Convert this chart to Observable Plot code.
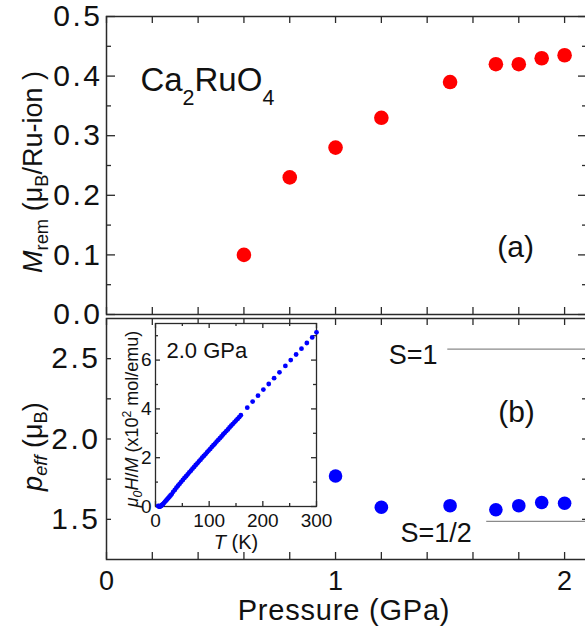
<!DOCTYPE html>
<html><head><meta charset="utf-8">
<script src="https://cdn.jsdelivr.net/npm/d3@7"></script>
<script src="https://cdn.jsdelivr.net/npm/@observablehq/plot@0.6"></script>
<style>
body{margin:0;background:#fff;}
#chart{position:relative;width:585px;height:631px;overflow:hidden;background:#fff;}
#chart svg{position:absolute;}
</style></head><body><div id="chart"></div>
<script>
// ---- data ----
const pressureA = [0.6, 0.8, 1.0, 1.2, 1.5, 1.7, 1.8, 1.9, 2.0];
const mRem      = [0.10, 0.23, 0.28, 0.33, 0.39, 0.42, 0.42, 0.43, 0.435];

const pressureB = [1.0, 1.2, 1.5, 1.7, 1.8, 1.9, 2.0];
const pEff      = [1.77, 1.575, 1.585, 1.56, 1.585, 1.605, 1.60];

// reference levels in panel (b)
const levelNames  = ["S=1", "S=1/2"];
const levelValues = [2.56, 1.487];
const levelStart  = [1.49, 1.66];

// inset: mu0 H / M (x10^2 mol/emu) vs T (K) at 2.0 GPa
const insetT = [5, 6, 7, 8, 9, 10, 11, 12, 13, 14, 16, 18, 20, 22, 24, 26, 28, 30, 33, 36, 39, 42, 45, 48, 51, 54, 57, 60, 63, 66, 69, 72, 75, 78, 81, 84, 87, 90, 93, 96, 99, 102, 105, 108, 111, 114, 117, 120, 123, 126, 129, 132, 135, 138, 141, 144, 147, 150, 153, 156, 159, 171, 181, 191, 201, 211, 221, 231, 242, 252, 262, 272, 282, 292, 300];
const insetInvChi = [0.02, 0.01, 0.0, 0.0, 0.01, 0.02, 0.04, 0.06, 0.08, 0.1, 0.15, 0.2, 0.25, 0.3, 0.35, 0.4, 0.45, 0.5, 0.6, 0.68, 0.77, 0.85, 0.93, 1.01, 1.09, 1.17, 1.24, 1.32, 1.4, 1.47, 1.55, 1.62, 1.7, 1.77, 1.85, 1.92, 2.0, 2.07, 2.14, 2.22, 2.29, 2.36, 2.44, 2.51, 2.58, 2.66, 2.73, 2.8, 2.87, 2.95, 3.02, 3.09, 3.16, 3.24, 3.31, 3.38, 3.45, 3.52, 3.59, 3.66, 3.74, 4.05, 4.3, 4.54, 4.79, 5.02, 5.26, 5.5, 5.76, 6.0, 6.23, 6.47, 6.7, 6.93, 7.14];

// ticks
const pressureTicks  = [0, 0.2, 0.4, 0.6, 0.8, 1.0, 1.2, 1.4, 1.6, 1.8, 2.0];
const pressureLabels = [0, 1, 2];
const mRemMajor = [0, 0.1, 0.2, 0.3, 0.4, 0.5];
const mRemMinor = [0.05, 0.15, 0.25, 0.35, 0.45];
const pEffMajor = [1.5, 2.0, 2.5];
const pEffMinor = [1.75, 2.25];
const tempMajor = [0, 100, 200, 300];
const tempMinor = [50, 150, 250];
const invChiMajor = [0, 2, 4, 6];
const invChiMinor = [1, 3, 5, 7];

// ---- style ----
const FONT = "Liberation Sans, Arial, Helvetica, sans-serif";
const INK = "#2a2a2a";
const TXT = "#111";
const baseStyle = {fontFamily: FONT, background: "transparent", overflow: "visible", color: TXT};
const tickStyle = {stroke: INK, strokeWidth: 1.3};

function xTicks(vals, len, fh) {
  return [Plot.ruleX(vals, {x: d => d, insetTop: fh - len, ...tickStyle}),
          Plot.ruleX(vals, {x: d => d, insetBottom: fh - len, ...tickStyle})];
}
function yTicks(vals, len, fw) {
  return [Plot.ruleY(vals, {y: d => d, insetRight: fw - len, ...tickStyle}),
          Plot.ruleY(vals, {y: d => d, insetLeft: fw - len, ...tickStyle})];
}

const W = 585, ML = 106, MR = -2;
const FW = W - ML - MR;

// ---- panel (a) ----
const topH = 318, topMT = 16, topMB = 4, topFH = topH - topMT - topMB;
const panelA = Plot.plot({
  width: W, height: topH, marginTop: topMT, marginBottom: topMB, marginLeft: ML, marginRight: MR,
  x: {domain: [0, 2.1], axis: null}, y: {domain: [0, 0.5], axis: null},
  style: baseStyle,
  marks: [
    Plot.frame({stroke: INK, strokeWidth: 1.5}),
    xTicks(pressureTicks, 7, topFH),
    yTicks(mRemMajor, 9, FW),
    yTicks(mRemMinor, 5, FW),
    Plot.axisY(mRemMajor, {anchor: "left", tickSize: 0, tickPadding: 4, tickFormat: d3.format(".1f"), fontSize: 30, fill: TXT, label: null}),
    Plot.dot(pressureA.map((p, i) => ({p, m: mRem[i]})), {x: "p", y: "m", r: 7.3, fill: "#ff0000", stroke: "none"}),
    Plot.text(["(a)"], {x: 1.786, y: 0.112, fontSize: 30, fill: TXT}),
    Plot.text(["Ca_{2}RuO_{4}"], {x: 0.148, y: 0.393, textAnchor: "start", fontSize: 33, fill: TXT}),
    Plot.text(["*M*_{rem} (μ_{B}/Ru-ion )"], {frameAnchor: "left", textAnchor: "middle", lineAnchor: "middle", rotate: -90, dx: -73, dy: 6.5, fontSize: 27, fill: TXT})
  ]
});

// ---- panel (b) ----
const botTop = 300, botH = 331, botMT = 18, botMB = 72, botFH = botH - botMT - botMB;
const panelB = Plot.plot({
  width: W, height: botH, marginTop: botMT, marginBottom: botMB, marginLeft: ML, marginRight: MR,
  x: {domain: [0, 2.1], axis: null}, y: {domain: [1.25, 2.75], axis: null},
  style: baseStyle,
  marks: [
    Plot.frame({stroke: INK, strokeWidth: 1.5}),
    xTicks(pressureTicks, 7, botFH),
    yTicks(pEffMajor, 5, FW),
    yTicks(pEffMinor, 5, FW),
    Plot.axisY(pEffMajor, {anchor: "left", tickSize: 0, tickPadding: 6, tickFormat: d3.format(".1f"), fontSize: 30, fill: TXT, label: null}),
    Plot.axisX(pressureLabels, {anchor: "bottom", tickSize: 0, tickPadding: 11, tickFormat: d3.format("d"), fontSize: 27, fill: TXT, label: null}),
    Plot.ruleY(levelValues.map((v, i) => ({v, s: levelStart[i]})), {y: "v", x1: "s", x2: 2.1, stroke: "#8a8a8a", strokeWidth: 1.2}),
    Plot.dot(pressureB.map((p, i) => ({p, v: pEff[i]})), {x: "p", y: "v", r: 6.8, fill: "#0000ff", stroke: "none"}),
    Plot.text([levelNames[0]], {x: 1.445, y: 2.52, textAnchor: "end", fontSize: 27, fill: TXT}),
    Plot.text([levelNames[1]], {x: 1.439, y: 1.413, fontSize: 27, fill: TXT}),
    Plot.text(["(b)"], {x: 1.79, y: 2.165, fontSize: 30, fill: TXT}),
    Plot.text(["*p*_{*eff*} (μ_{B})"], {frameAnchor: "left", textAnchor: "middle", lineAnchor: "middle", rotate: -90, dx: -73.5, dy: 7.5, fontSize: 27, fill: TXT}),
    Plot.text(["Pressure (GPa)"], {frameAnchor: "bottom", textAnchor: "middle", lineAnchor: "middle", dx: -3, dy: 51, fontSize: 29, fill: TXT})
  ]
});

// ---- inset ----
const inLeft = 110, inTop = 318, inW = 215, inH = 240;
const inML = 45, inMT = 5, inMR = 9, inMB = 52;
const inFW = inW - inML - inMR, inFH = inH - inMT - inMB;
const inset = Plot.plot({
  width: inW, height: inH, marginLeft: inML, marginTop: inMT, marginRight: inMR, marginBottom: inMB,
  x: {domain: [0, 300], axis: null}, y: {domain: [0, 7.5], axis: null},
  style: baseStyle,
  marks: [
    Plot.frame({stroke: INK, strokeWidth: 1.3, fill: "white"}),
    xTicks(tempMajor, 5, inFH),
    xTicks(tempMinor, 3, inFH),
    yTicks(invChiMajor, 5, inFW),
    yTicks(invChiMinor, 3, inFW),
    Plot.axisX(tempMajor, {anchor: "bottom", tickSize: 0, tickPadding: 7, tickFormat: d3.format("d"), fontSize: 19, fill: TXT, label: null}),
    Plot.axisY(invChiMajor, {anchor: "left", tickSize: 0, tickPadding: 4, tickFormat: d3.format("d"), fontSize: 19, fill: TXT, label: null}),
    Plot.dot(insetT.map((t, i) => ({t, v: insetInvChi[i]})), {x: "t", y: "v", r: 2.4, fill: "#0000ff", stroke: "none"}),
    Plot.text(["2.0 GPa"], {frameAnchor: "top-left", textAnchor: "start", lineAnchor: "middle", dx: 11, dy: 27, fontSize: 22, fill: TXT}),
    Plot.text(["*μ*_{*0*}*H*/*M* (x10^{2} mol/emu)"], {frameAnchor: "left", textAnchor: "middle", lineAnchor: "middle", rotate: -90, dx: -23, dy: 4, fontSize: 18, fill: TXT}),
    Plot.text(["*T* (K)"], {frameAnchor: "bottom", textAnchor: "middle", lineAnchor: "middle", dy: 36, fontSize: 20, fill: TXT})
  ]
});

const chart = document.getElementById("chart");
function place(svg, left, top) { svg.style.left = left + "px"; svg.style.top = top + "px"; chart.appendChild(svg); }
place(panelA, 0, 0);
place(panelB, 0, botTop);
place(inset, inLeft, inTop);

// wider spacing of the main-axis numbers, as in the reference typeface
[panelA, panelB].forEach(svg => {
  svg.querySelectorAll('g[aria-label="y-axis tick label"] text').forEach(t => t.setAttribute("letter-spacing", "2.5"));
});
panelB.querySelectorAll("text").forEach(t => { if (t.textContent === "Pressure (GPa)") t.setAttribute("letter-spacing", "0.8"); });

// ---- rich text: _{sub}, ^{sup}, *italic* ----
const richParams = {"Ca_{2}RuO_{4}": {sub: 0.42, size: 0.65}};
function richify(root) {
  root.querySelectorAll("text").forEach(t => {
    const s = t.textContent;
    if (!/[_^]\{|\*/.test(s)) return;
    const prm = richParams[s] || {sub: 0.2, size: 0.68};
    const fs = parseFloat(getComputedStyle(t).fontSize);
    t.textContent = "";
    const re = /_\{([^}]*)\}|\^\{([^}]*)\}|\*|([^_^*]+)/g;
    let italic = false, m, offset = 0;
    while ((m = re.exec(s))) {
      if (m[0] === "*") { italic = !italic; continue; }
      let content = m[3], shift = 0, small = false;
      if (m[1] !== undefined) { content = m[1]; shift = prm.sub * fs; small = true; }
      else if (m[2] !== undefined) { content = m[2]; shift = -0.38 * fs; small = true; }
      let localItalic = italic;
      if (content.includes("*")) { localItalic = true; content = content.replace(/\*/g, ""); }
      const ts = document.createElementNS("http://www.w3.org/2000/svg", "tspan");
      ts.textContent = content;
      const dy = shift - offset;
      if (dy) ts.setAttribute("dy", dy.toFixed(2));
      offset = shift;
      if (small) ts.setAttribute("font-size", (fs * prm.size).toFixed(2));
      if (localItalic) ts.setAttribute("font-style", "italic");
      t.appendChild(ts);
    }
  });
}
[panelA, panelB, inset].forEach(richify);
</script>
</body></html>
